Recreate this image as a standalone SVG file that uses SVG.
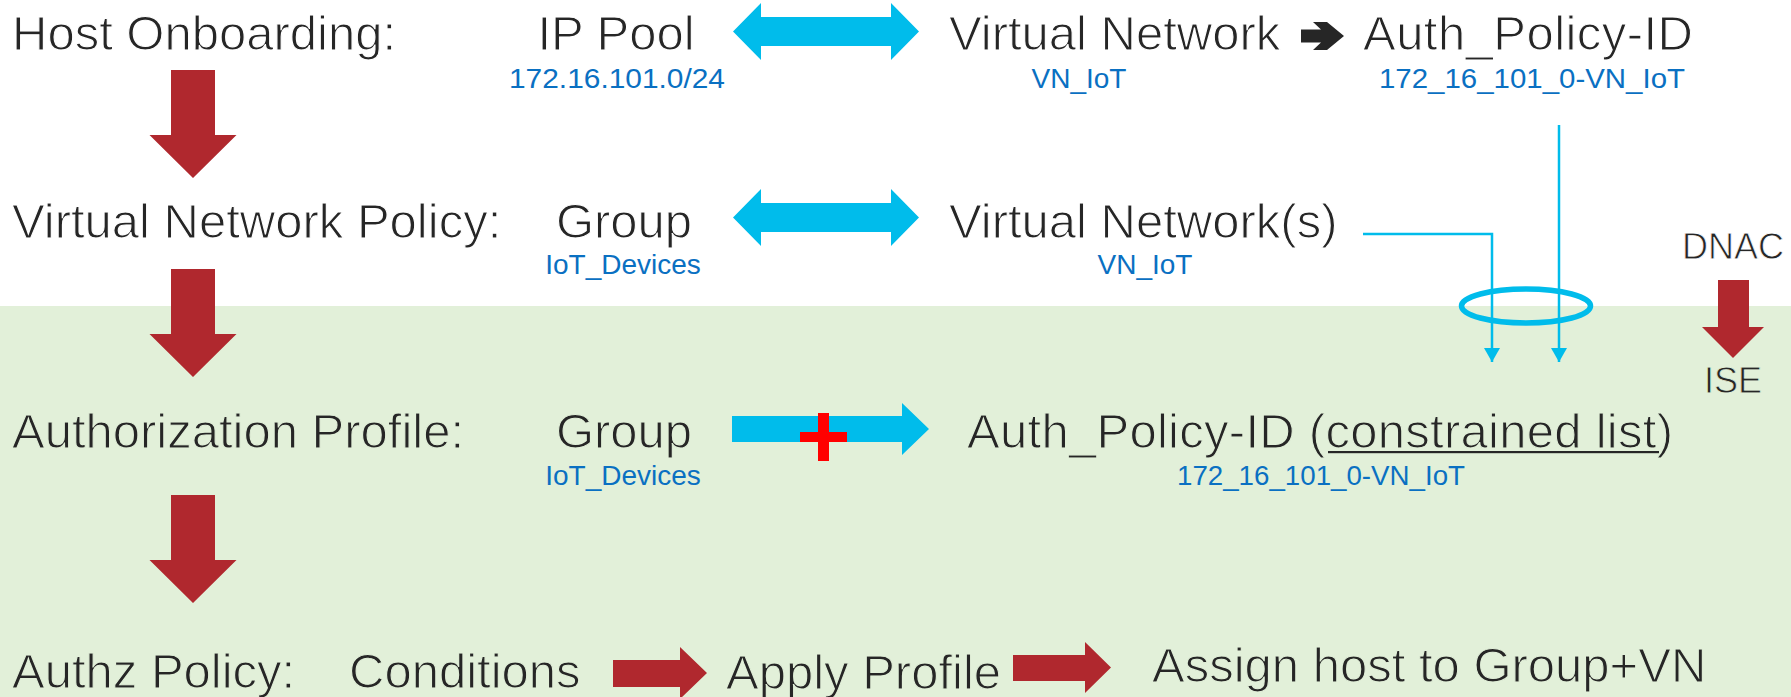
<svg xmlns="http://www.w3.org/2000/svg" xmlns:xlink="http://www.w3.org/1999/xlink" width="1791" height="697" viewBox="0 0 1791 697">
  <style>
    .h { font-family: "Liberation Sans", Arial, sans-serif; font-size: 49px; fill: #262626; stroke-width: 1.1px; }
    .s { font-family: "Liberation Sans", Arial, sans-serif; font-size: 36px; fill: #262626; stroke-width: 0.8px; }
    .w { stroke: #ffffff; }
    .g { stroke: #e2f0d9; }
    .b { font-family: "Liberation Sans", Arial, sans-serif; font-size: 28px; fill: #0a70c2; }
    .cy { fill: #00bceb; }
    .rd { fill: #b0282e; }
    .ln { fill: none; stroke: #00bceb; stroke-width: 2.5; }
  </style>
  <defs>
    <path id="downArrow" d="M-22,0 H22 V65 H43.5 L0,108 L-43.5,65 H-22 Z"/>
    <marker id="cyHead" markerUnits="userSpaceOnUse" markerWidth="16" markerHeight="14" refX="8" refY="14" orient="0" viewBox="0 0 16 14">
      <path d="M0,0 H16 L8,14 Z" fill="#00bceb"/>
    </marker>
  </defs>

  <rect id="bg-white" x="0" y="0" width="1791" height="306" fill="#ffffff"/>
  <rect id="bg-green" x="0" y="306" width="1791" height="391" fill="#e2f0d9"/>

  <g id="connectors">
    <path class="cy" d="M733,31.5 L761,3 V17 H891 V3 L919,31.5 L891,60 V46 H761 V60 Z"/>
    <path class="cy" d="M733,217.5 L761,189 V203 H891 V189 L919,217.5 L891,246 V232 H761 V246 Z"/>
    <path class="cy" d="M732,416 H902 V403 L929,429 L902,455 V442 H732 Z"/>
    <path fill="#ff0000" d="M818,413 H829 V432 H847 V442 H829 V461 H818 V442 H800 V432 H818 Z"/>
    <path fill="#262626" d="M1301,29.5 H1321 L1313,22 H1327 L1344,36 L1327,50 H1313 L1321,42.5 H1301 Z"/>
    <ellipse cx="1526" cy="306" rx="64.5" ry="17" fill="none" stroke="#00bceb" stroke-width="5.5"/>
    <path class="ln" d="M1363,234 H1492 V362" marker-end="url(#cyHead)"/>
    <path class="ln" d="M1559,125 V362" marker-end="url(#cyHead)"/>
    <use xlink:href="#downArrow" class="rd" transform="translate(193,70)"/>
    <use xlink:href="#downArrow" class="rd" transform="translate(193,269)"/>
    <use xlink:href="#downArrow" class="rd" transform="translate(193,495)"/>
    <path class="rd" d="M1718,280 H1749 V327 H1764 L1733,358 L1702,327 H1718 Z"/>
    <path class="rd" d="M613,660 H680 V647 L707,673 L680,699 V687 H613 Z"/>
    <path class="rd" d="M1013,655 H1085 V642 L1111,667.5 L1085,693 V681 H1013 Z"/>
  </g>

  <g id="row-host-onboarding">
    <text class="h w" x="12" y="50">Host Onboarding:</text>
  </g>
  <g id="node-ip-pool">
    <text class="h w" x="616" y="50" text-anchor="middle">IP Pool</text>
    <text class="b" x="509" y="88" textLength="216" lengthAdjust="spacingAndGlyphs">172.16.101.0/24</text>
  </g>
  <g id="node-virtual-network">
    <text class="h w" x="949" y="50">Virtual Network</text>
    <text class="b" x="1079" y="88" text-anchor="middle">VN_IoT</text>
  </g>
  <g id="node-auth-policy-id">
    <text class="h w" x="1363" y="50" textLength="330">Auth_Policy-ID</text>
    <text class="b" x="1379" y="88" textLength="306" lengthAdjust="spacingAndGlyphs">172_16_101_0-VN_IoT</text>
  </g>

  <g id="row-vn-policy">
    <text class="h w" x="12" y="238">Virtual Network Policy:</text>
  </g>
  <g id="node-group-1">
    <text class="h w" x="624" y="238" text-anchor="middle">Group</text>
    <text class="b" x="623" y="274" text-anchor="middle">IoT_Devices</text>
  </g>
  <g id="node-virtual-networks">
    <text class="h w" x="949" y="238">Virtual Network(s)</text>
    <text class="b" x="1145" y="274" text-anchor="middle">VN_IoT</text>
  </g>
  <g id="node-dnac">
    <text class="s w" x="1733" y="259" text-anchor="middle">DNAC</text>
  </g>
  <g id="node-ise">
    <text class="s g" x="1733" y="393" text-anchor="middle">ISE</text>
  </g>

  <g id="row-authz-profile">
    <text class="h g" x="12" y="448">Authorization Profile:</text>
  </g>
  <g id="node-group-2">
    <text class="h g" x="624" y="448" text-anchor="middle">Group</text>
    <text class="b" x="623" y="485" text-anchor="middle">IoT_Devices</text>
  </g>
  <g id="node-auth-policy-list">
    <text class="h g" x="967" y="448" textLength="706">Auth_Policy-ID (constrained list)</text>
    <rect x="1328" y="451" width="331" height="2.2" fill="#262626"/>
    <text class="b" x="1177" y="485" textLength="288" lengthAdjust="spacingAndGlyphs">172_16_101_0-VN_IoT</text>
  </g>

  <g id="row-authz-policy">
    <text class="h g" x="12" y="688">Authz Policy:</text>
  </g>
  <g id="node-conditions">
    <text class="h g" x="349" y="688">Conditions</text>
  </g>
  <g id="node-apply-profile">
    <text class="h g" x="726" y="689">Apply Profile</text>
  </g>
  <g id="node-assign-host">
    <text class="h g" x="1152" y="682">Assign host to Group+VN</text>
  </g>
</svg>
